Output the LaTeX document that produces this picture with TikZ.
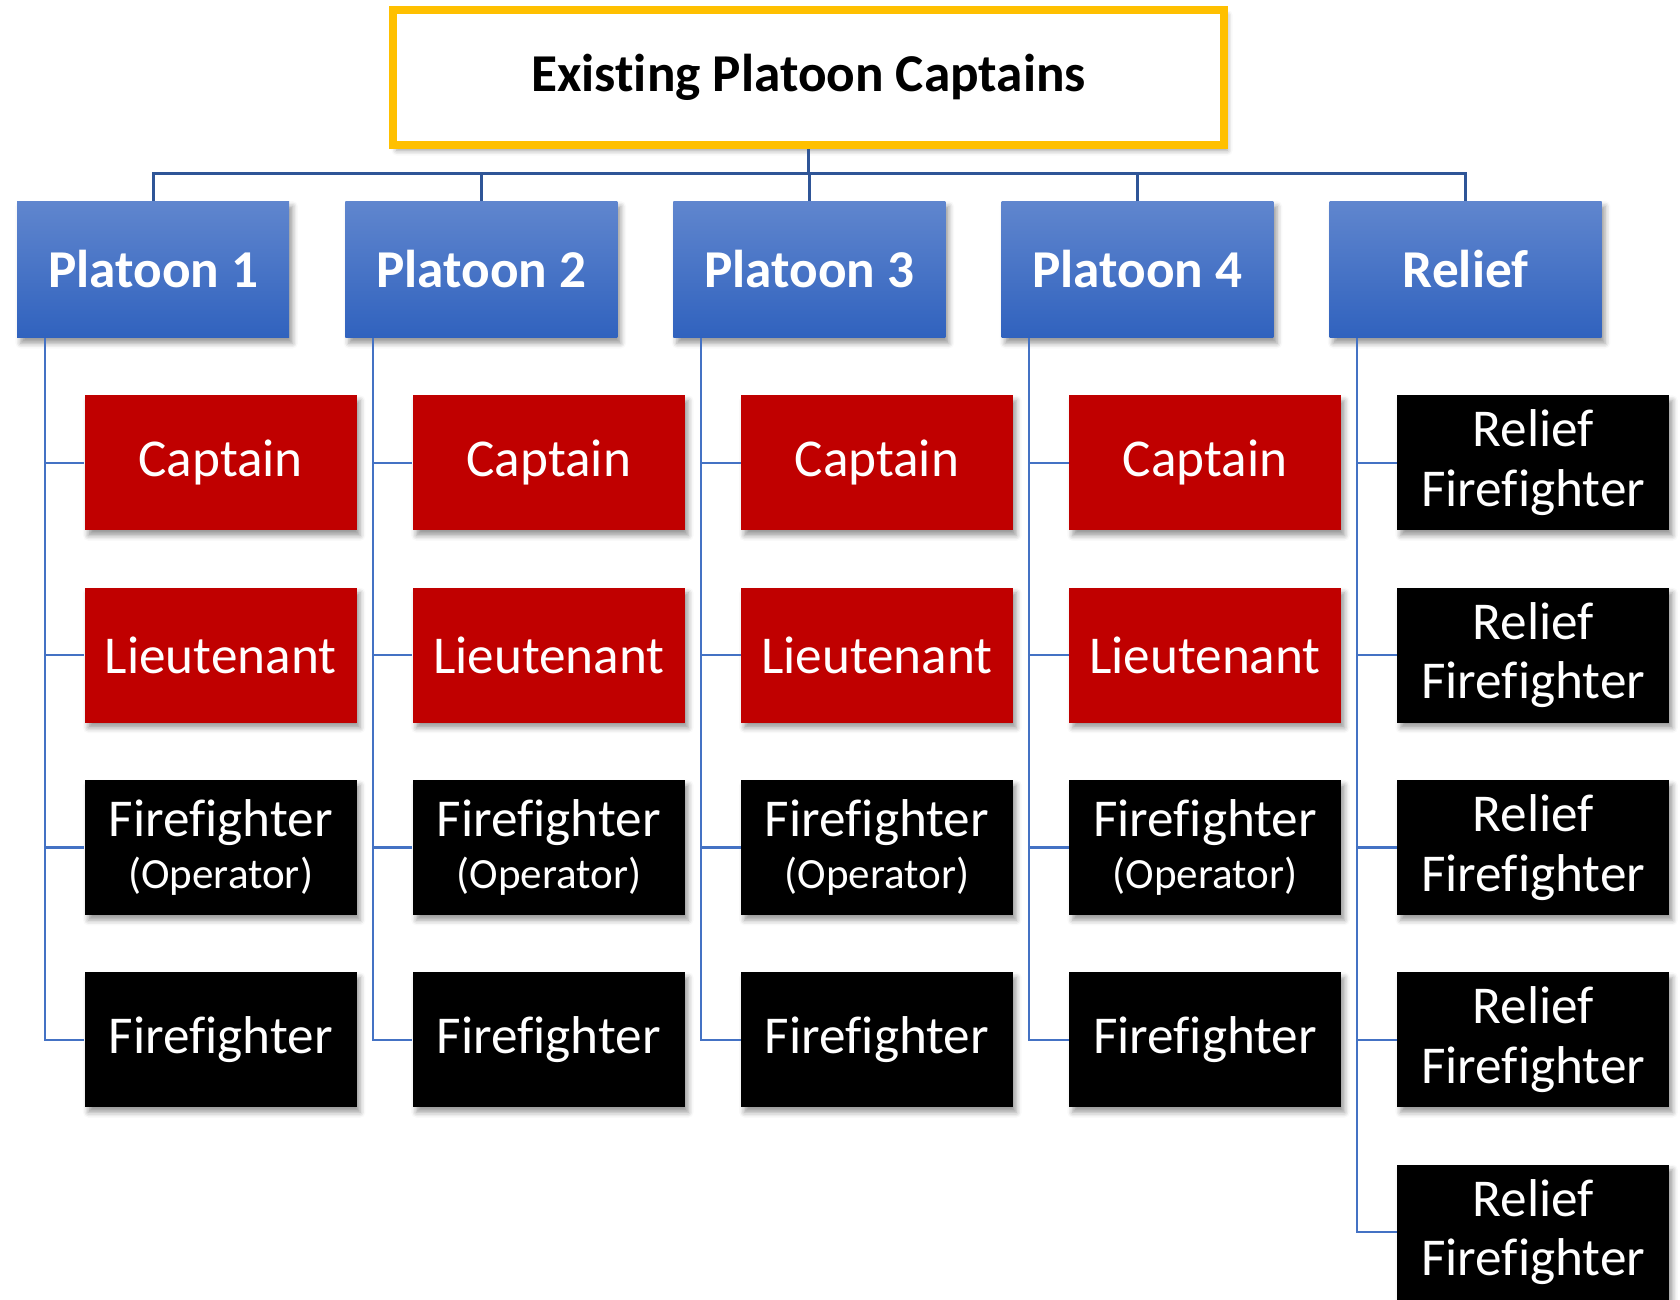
\documentclass[tikz,border=0pt]{standalone}
\usepackage{fontspec}
\setmainfont[Ligatures={NoCommon,NoContextual}]{Carlito}
\usetikzlibrary{shadows.blur}
\definecolor{titlegold}{RGB}{255,192,0}
\definecolor{rankred}{RGB}{192,0,0}
\definecolor{platoontop}{RGB}{96,134,206}
\definecolor{platoonbot}{RGB}{48,98,190}
\definecolor{trunkblue}{RGB}{47,85,151}
\definecolor{branchblue}{RGB}{68,114,196}
\newcommand{\opfont}{\fontsize{24.5}{28}\selectfont}

\begin{document}
\begin{tikzpicture}[
x=0.02cm,
y=-0.02cm,
box/.style={
  rectangle,
  minimum width=5.44cm,
  minimum height=2.7cm,
  inner sep=0pt,
  align=center,
  text=white,
  font=\fontsize{30.3}{34}\selectfont,
  blur shadow={shadow xshift=2pt,shadow yshift=-3pt,shadow blur radius=3pt}
  },
platoon/.style={
  box,
  minimum height=2.74cm,
  top color=platoontop,
  bottom color=platoonbot,
  font=\fontsize{30.3}{34}\selectfont\bfseries
  },
officer/.style={
  box,
  fill=rankred
  },
crew/.style={
  box,
  fill=black
  },
head/.style={
  box,
  draw=titlegold,
  line width=0.16cm,
  fill=white,
  text=black,
  minimum width=16.62cm,
  minimum height=2.7cm,
  font=\fontsize{30.3}{34}\selectfont\bfseries
  },
trunk/.style={
  draw=trunkblue,
  line width=1.7pt
  },
branch/.style={
  draw=branchblue,
  line width=1.3pt
  }
]
\useasboundingbox (0,0) rectangle (1680,1299);

\node[head] (title) at (808.5,77.5) {Existing Platoon Captains};

\foreach \lab [count=\i] in {Platoon 1,Platoon 2,Platoon 3,Platoon 4,Relief}
  \node[platoon] (p\i) at ({153.2+328.1*(\i-1)},269.5) {\lab};

% platoon crews
\foreach \i in {1,...,4}
{\foreach \lab/\kind [count=\j] in {Captain/officer,Lieutenant/officer,{Firefighter\\[-4pt]{\opfont (Operator)}}/crew,Firefighter/crew}
  \node[\kind] (c\i-\j) at ({220.7+328.1*(\i-1)},{270.5+192.3*\j}) {\lab};
}
\foreach \j in {1,...,5}
  \node[crew] (c5-\j) at ({220.7+328.1*4},{270.5+192.3*\j}) {Relief\\Firefighter};

% connectors
\coordinate (bus) at (808.5,173.6);
\draw[trunk] (title.south) -- (bus);
\foreach \i in {1,...,5}
  \draw[trunk] (bus) -| (p\i.north);
\foreach \i in {1,...,4}
{\foreach \j in {1,...,4}
  \draw[branch] ([xshift=0.56cm]p\i.south west) |- (c\i-\j.west);
}
\foreach \j in {1,...,5}
  \draw[branch] ([xshift=0.56cm]p5.south west) |- (c5-\j.west);

\end{tikzpicture}
\end{document}
